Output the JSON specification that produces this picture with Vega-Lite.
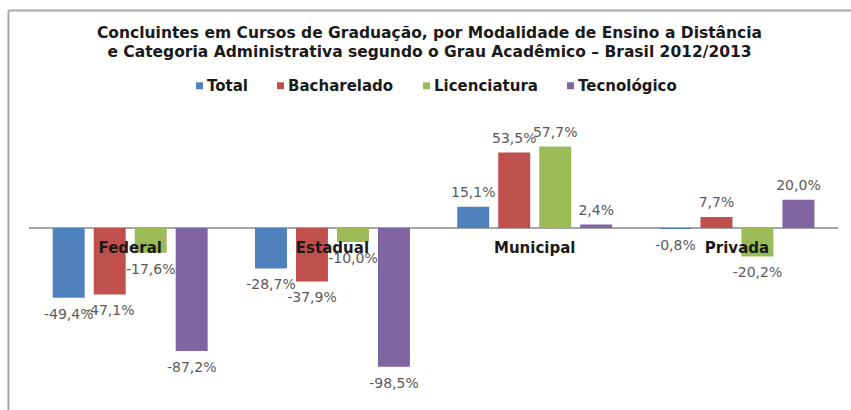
{
  "$schema": "https://vega.github.io/schema/vega-lite/v6.json",
  "width": 843,
  "height": 400,
  "autosize": {"type": "none"},
  "padding": {"left": 8, "top": 10, "right": 0, "bottom": 0},
  "background": "white",
  "title": {
    "text": ["Concluintes em Cursos de Graduação, por Modalidade de Ensino a Distância", "e Categoria Administrativa segundo o Grau Acadêmico – Brasil 2012/2013"],
    "anchor": "middle",
    "frame": "group",
    "orient": "top",
    "baseline": "alphabetic",
    "offset": -62,
    "font": "DejaVu Sans",
    "fontSize": 15.5,
    "fontWeight": "bold",
    "color": "#1a1a1a",
    "lineHeight": 19
  },
  "data": {
    "values": [
      {"cat": "Federal", "series": "Total", "value": -0.494},
      {"cat": "Federal", "series": "Bacharelado", "value": -0.471},
      {"cat": "Federal", "series": "Licenciatura", "value": -0.176},
      {"cat": "Federal", "series": "Tecnológico", "value": -0.872},
      {"cat": "Estadual", "series": "Total", "value": -0.287},
      {"cat": "Estadual", "series": "Bacharelado", "value": -0.379},
      {"cat": "Estadual", "series": "Licenciatura", "value": -0.100},
      {"cat": "Estadual", "series": "Tecnológico", "value": -0.985},
      {"cat": "Municipal", "series": "Total", "value": 0.151},
      {"cat": "Municipal", "series": "Bacharelado", "value": 0.535},
      {"cat": "Municipal", "series": "Licenciatura", "value": 0.577},
      {"cat": "Municipal", "series": "Tecnológico", "value": 0.024},
      {"cat": "Privada", "series": "Total", "value": -0.008},
      {"cat": "Privada", "series": "Bacharelado", "value": 0.077},
      {"cat": "Privada", "series": "Licenciatura", "value": -0.202},
      {"cat": "Privada", "series": "Tecnológico", "value": 0.200}
    ]
  },
  "layer": [
    {
      "mark": {"type": "rule", "color": "#a6a6a6", "strokeWidth": 1},
      "encoding": {
        "x": {"datum": "Federal", "type": "nominal", "bandPosition": 0},
        "x2": {"datum": "Privada", "bandPosition": 1},
        "y": {"datum": 0, "type": "quantitative"}
      }
    },
    {
      "mark": {"type": "bar"},
      "encoding": {
        "x": {
          "field": "cat", "type": "nominal",
          "scale": {"domain": ["Federal", "Estadual", "Municipal", "Privada"], "paddingInner": 0, "paddingOuter": 0.084, "align": 0.62},
          "axis": {"orient": "top", "domain": true, "domainColor": "#a8a8a8", "domainWidth": 2, "ticks": false, "labels": false, "grid": false, "title": null}
        },
        "xOffset": {
          "field": "series", "type": "nominal",
          "scale": {"domain": ["Total", "Bacharelado", "Licenciatura", "Tecnológico"], "paddingInner": 0.22, "paddingOuter": 0.577}
        },
        "y": {
          "field": "value", "type": "quantitative",
          "scale": {"domain": [-1.291, 1.546], "nice": false, "zero": false},
          "axis": {"orient": "left", "domain": true, "domainColor": "#a8a8a8", "domainWidth": 2, "ticks": false, "labels": false, "grid": false, "title": null}
        },
        "color": {
          "field": "series", "type": "nominal",
          "scale": {"domain": ["Total", "Bacharelado", "Licenciatura", "Tecnológico"], "range": ["#4F81BD", "#C0504D", "#9BBB59", "#8064A2"]},
          "legend": {
            "orient": "none", "legendX": 184, "legendY": 68, "direction": "horizontal",
            "title": null, "symbolType": "square", "symbolSize": 49, "symbolStrokeWidth": 0,
            "labelFont": "DejaVu Sans", "labelFontSize": 15, "labelFontWeight": "bold", "labelColor": "#1a1a1a",
            "columnPadding": 25, "labelOffset": 0, "padding": 0
          }
        }
      }
    },
    {
      "transform": [{"filter": "datum.value >= 0"}],
      "mark": {"type": "text", "dy": -14, "font": "DejaVu Sans", "fontSize": 14, "color": "#595959"},
      "encoding": {
        "x": {"field": "cat", "type": "nominal"},
        "xOffset": {"field": "series", "type": "nominal"},
        "y": {"field": "value", "type": "quantitative"},
        "text": {"field": "value", "type": "quantitative", "format": ".1%"}
      }
    },
    {
      "transform": [{"filter": "datum.value < 0"}],
      "mark": {"type": "text", "dy": 17, "font": "DejaVu Sans", "fontSize": 14, "color": "#595959"},
      "encoding": {
        "x": {"field": "cat", "type": "nominal"},
        "xOffset": {"field": "series", "type": "nominal"},
        "y": {"field": "value", "type": "quantitative"},
        "text": {"field": "value", "type": "quantitative", "format": ".1%"}
      }
    },
    {
      "transform": [{"filter": "datum.series === 'Total'"}],
      "mark": {"type": "text", "dy": 20, "font": "DejaVu Sans", "fontSize": 15, "fontWeight": "bold", "color": "#1a1a1a"},
      "encoding": {
        "x": {"field": "cat", "type": "nominal"},
        "y": {"datum": 0, "type": "quantitative"},
        "text": {"field": "cat", "type": "nominal"}
      }
    }
  ],
  "config": {
    "view": {"stroke": null},
    "locale": {
      "number": {"decimal": ",", "thousands": ".", "grouping": [3], "currency": ["", ""], "percent": "%", "minus": "-"}
    }
  }
}
